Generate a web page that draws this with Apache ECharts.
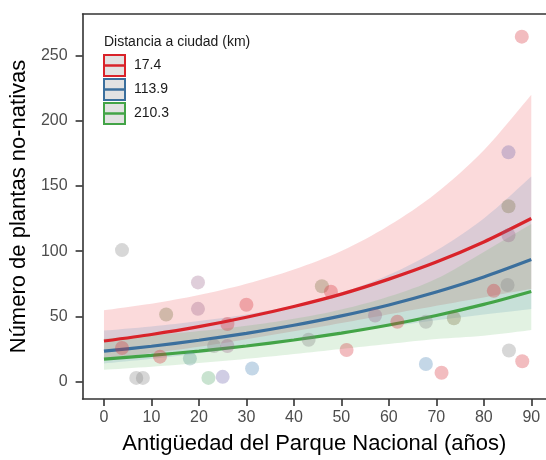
<!DOCTYPE html>
<html><head><meta charset="utf-8">
<script src="https://cdn.jsdelivr.net/npm/echarts@6/dist/echarts.min.js"></script>
<style>html,body{margin:0;padding:0;background:#fff}#c{width:546px;height:460px}</style>
</head><body><div id="c"></div>
<script>
// ---- data ----
const xTicks = [0, 10, 20, 30, 40, 50, 60, 70, 80, 90];
const yTicks = [0, 50, 100, 150, 200, 250];

const fitX = [0, 10, 20, 30, 40, 50, 60, 70, 80, 90];
const fitRed   = [31.0, 36.0, 42.0, 49.2, 57.5, 67.0, 78.5, 91.6, 107.0, 125.0];
const loRed    = [17.6, 21.7, 26.6, 32.3, 38.5, 44.8, 51.5, 58.0, 64.5, 71.0];
const hiRed    = [54.6, 59.7, 66.3, 74.9, 85.9, 100.1, 119.6, 144.6, 177.5, 220.0];
const fitBlue  = [23.2, 27.0, 31.6, 36.9, 43.1, 50.3, 58.7, 68.6, 80.1, 93.5];
const loBlue   = [13.8, 17.3, 21.6, 26.5, 31.8, 37.1, 42.1, 46.9, 51.3, 55.6];
const hiBlue   = [39.0, 42.2, 46.3, 51.4, 58.4, 68.2, 81.8, 100.4, 125.1, 157.3];
const fitGreen = [17.1, 20.0, 23.3, 27.2, 31.8, 37.1, 43.3, 50.6, 59.1, 69.0];
const loGreen  = [8.9, 11.3, 14.1, 17.3, 21.0, 24.9, 28.8, 32.5, 35.1, 39.4];
const hiGreen  = [32.8, 35.5, 38.6, 42.7, 48.0, 55.2, 65.1, 78.7, 99.4, 120.8];

const distLabels = ['17.4', '113.9', '210.3'];

const ptX = [3.8, 19.8, 13.1, 19.8, 30.0, 26.0, 3.8, 11.8, 23.2, 26.0, 18.1, 6.8, 8.2, 22.0, 25.0, 31.2,
             45.9, 47.8, 57.1, 61.8, 67.8, 73.7, 43.1, 51.1, 67.8, 71.1,
             85.2, 85.2, 85.2, 85.0, 82.1, 85.3, 88.1, 88.0];
const ptY = [100.8, 76.0, 51.4, 55.7, 58.8, 44.0, 25.6, 19.0, 27.2, 27.2, 17.5, 2.7, 2.7, 2.7, 3.5, 9.9,
             73.0, 68.9, 50.6, 45.8, 45.8, 48.5, 32.0, 24.1, 13.4, 6.6,
             175.8, 134.4, 112.2, 74.0, 69.5, 23.7, 15.5, 264.6];
const ptGroup = ['gris', 'malva', 'oliva', 'malva', 'rojo', 'rojo', 'rojo', 'rojo', 'gris', 'malva', 'verdegris', 'gris', 'gris', 'verde', 'lavanda', 'azul',
             'oliva', 'rojo', 'malva', 'rojo', 'gris', 'oliva', 'gris', 'rojo', 'azul', 'rojo',
             'lavanda', 'oliva', 'malva', 'gris', 'rojo', 'gris', 'rojo', 'rojo'];

// ---- styles ----
const FONT = 'Liberation Sans, Arial, sans-serif';
const groupColor = {
  rojo: 'rgba(214,48,56,0.40)',
  gris: 'rgba(130,130,130,0.40)',
  malva: 'rgba(150,95,135,0.38)',
  oliva: 'rgba(125,120,70,0.42)',
  azul: 'rgba(70,130,180,0.40)',
  lavanda: 'rgba(110,100,170,0.40)',
  verde: 'rgba(80,165,100,0.38)',
  verdegris: 'rgba(85,150,140,0.40)'
};
const lineCol = ['#D9232A', '#3B6F9D', '#43A447'];
const bandCol = ['rgba(228,26,28,0.16)', 'rgba(55,126,184,0.16)', 'rgba(77,175,74,0.16)'];
const AX = { color: '#333', width: 1.6 };
const SM = 0.25;

// render-time smoothing of the band edges in pixel space (Catmull-Rom curve through the read values)
function smoothPts(p) {
  const out = [p[0]];
  for (let i = 0; i < p.length - 1; i++) {
    const p0 = p[Math.max(i - 1, 0)], p1 = p[i], p2 = p[i + 1], p3 = p[Math.min(i + 2, p.length - 1)];
    const c1 = [p1[0] + (p2[0] - p0[0]) / 6, p1[1] + (p2[1] - p0[1]) / 6];
    const c2 = [p2[0] - (p3[0] - p1[0]) / 6, p2[1] - (p3[1] - p1[1]) / 6];
    for (let k = 1; k <= 8; k++) {
      const t = k / 8, u = 1 - t;
      out.push([
        u * u * u * p1[0] + 3 * u * u * t * c1[0] + 3 * u * t * t * c2[0] + t * t * t * p2[0],
        u * u * u * p1[1] + 3 * u * u * t * c1[1] + 3 * u * t * t * c2[1] + t * t * t * p2[1]
      ]);
    }
  }
  return out;
}
function band(lo, hi, fill) {
  return {
    type: 'custom', coordinateSystem: 'cartesian2d', silent: true, z: 1,
    data: [[0, 0]],
    renderItem: function (params, api) {
      const up = smoothPts(fitX.map((x, i) => api.coord([x, hi[i]])));
      const dn = smoothPts(fitX.map((x, i) => api.coord([x, lo[i]]))).reverse();
      return { type: 'polygon', shape: { points: up.concat(dn) }, style: { fill: fill } };
    }
  };
}
function fitLine(vals, col) {
  return {
    type: 'line', data: fitX.map((x, i) => [x, vals[i]]), showSymbol: false, silent: true,
    smooth: SM, z: 3, lineStyle: { color: col, width: 3.2 }
  };
}

const chart = echarts.init(document.getElementById('c'), null, { renderer: 'canvas' });

const legendG = [];
legendG.push({ type: 'text', left: 104, top: 35, style: { text: 'Distancia a ciudad (km)', font: '14px ' + FONT, fill: '#1a1a1a' } });
distLabels.forEach((lab, i) => {
  const y0 = 55 + i * 24;
  legendG.push({ type: 'rect', shape: { x: 104, y: y0, width: 21, height: 21 }, style: { fill: '#e2e2e2', stroke: lineCol[i], lineWidth: 2 } });
  legendG.push({ type: 'line', shape: { x1: 104, y1: y0 + 10.5, x2: 125, y2: y0 + 10.5 }, style: { stroke: lineCol[i], lineWidth: 2.5 } });
  legendG.push({ type: 'text', left: 134, top: y0 + 3, style: { text: lab, font: '14px ' + FONT, fill: '#1a1a1a' } });
});

chart.setOption({
  animation: false,
  backgroundColor: '#fff',
  textStyle: { fontFamily: FONT },
  grid: { left: 82, top: 14, right: 0, bottom: 58, show: false },
  xAxis: [{
    type: 'value', min: -4.5, max: 93.1, position: 'bottom',
    name: 'Antigüedad del Parque Nacional (años)', nameLocation: 'middle', nameGap: 34,
    nameTextStyle: { fontSize: 22, color: '#000', fontFamily: FONT },
    axisLine: { show: true, onZero: false, lineStyle: AX },
    axisTick: { show: true, inside: false, length: 7, lineStyle: AX, customValues: xTicks },
    axisLabel: { fontSize: 16, color: '#4d4d4d', margin: 11, customValues: xTicks },
    splitLine: { show: false }
  }, {
    type: 'value', min: -4.5, max: 93.1, position: 'top',
    axisLine: { show: true, onZero: false, lineStyle: AX },
    axisTick: { show: false }, axisLabel: { show: false }, splitLine: { show: false }
  }],
  yAxis: {
    type: 'value', min: -13.5, max: 282,
    name: 'Número de plantas no-nativas', nameLocation: 'middle', nameGap: 48,
    nameTextStyle: { fontSize: 22, color: '#000', fontFamily: FONT },
    axisLine: { show: true, onZero: false, lineStyle: AX },
    axisTick: { show: true, inside: false, length: 7, lineStyle: AX, customValues: yTicks },
    axisLabel: { fontSize: 16, color: '#4d4d4d', margin: 15, customValues: yTicks },
    splitLine: { show: false }
  },
  graphic: legendG,
  series: [
    band(loRed, hiRed, bandCol[0]),
    band(loBlue, hiBlue, bandCol[1]),
    band(loGreen, hiGreen, bandCol[2]),
    fitLine(fitRed, lineCol[0]),
    fitLine(fitBlue, lineCol[1]),
    fitLine(fitGreen, lineCol[2]),
    {
      type: 'scatter', z: 4, symbolSize: 14, silent: true,
      data: ptX.map((x, i) => ({ value: [x, ptY[i]], itemStyle: { color: groupColor[ptGroup[i]] } }))
    }
  ]
});
</script></body></html>
